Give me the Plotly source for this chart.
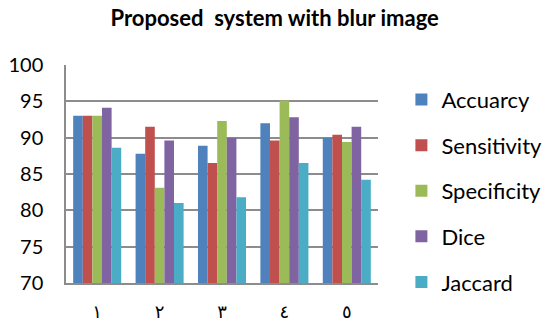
import plotly.graph_objects as go

categories = ["١", "٢", "٣", "٤", "٥"]
accuracy = [93.0, 87.8, 88.9, 92.0, 90.0]
sensitivity = [93.0, 91.5, 86.5, 89.6, 90.4]
specificity = [93.0, 83.1, 92.3, 95.1, 89.4]
dice = [94.1, 89.6, 90.0, 92.8, 91.5]
jaccard = [88.6, 81.0, 81.8, 86.5, 84.2]

series_names = ["Accuarcy", "Sensitivity", "Specificity", "Dice", "Jaccard"]
series_values = [accuracy, sensitivity, specificity, dice, jaccard]
colors = ["#4F81BD", "#C0504D", "#9BBB59", "#8064A2", "#4BACC6"]
y_ticks = [70, 75, 80, 85, 90, 95, 100]

fig = go.Figure()
for i, (name, vals, col) in enumerate(zip(series_names, series_values, colors)):
    fig.add_trace(go.Bar(
        x=categories, y=vals, name=name, legendgroup=name,
        marker=dict(color=col, line=dict(width=0)),
    ))

fig.update_layout(
    width=546, height=326,
    margin=dict(l=66, r=168, t=65, b=43, autoexpand=False),
    paper_bgcolor="white", plot_bgcolor="white",
    barmode="group", bargap=0.23, bargroupgap=0,
    font=dict(family="Lato, Liberation Sans, sans-serif", color="black"),
    title=dict(text="<b>Proposed  system with blur image</b>", x=0.503, xanchor="center",
               y=0.945, yanchor="middle", font=dict(size=22, family="Lato, sans-serif")),
    legend=dict(x=1.075, xanchor="left", y=0.937, yanchor="top",
                font=dict(size=22), tracegroupgap=14, itemwidth=30,
                maxheight=320, bgcolor="rgba(0,0,0,0)"),
    showlegend=True,
)
fig.update_yaxes(range=[70, 100], tickvals=y_ticks, showgrid=True, gridcolor="#8C8C8C", gridwidth=1.5,
                 showline=True, linecolor="#8C8C8C", linewidth=1.5, automargin=False,
                 tickfont=dict(size=20), ticks="", ticklabelstandoff=17, zeroline=False)
fig.update_xaxes(showline=True, linecolor="#8C8C8C", linewidth=2, ticks="", automargin=False,
                 tickfont=dict(size=18, family="DejaVu Sans, sans-serif"), ticklabelstandoff=11)

fig.write_html("out.html", config={"displayModeBar": False},
               post_script="document.body.style.margin='0';document.body.style.overflow='hidden';")
